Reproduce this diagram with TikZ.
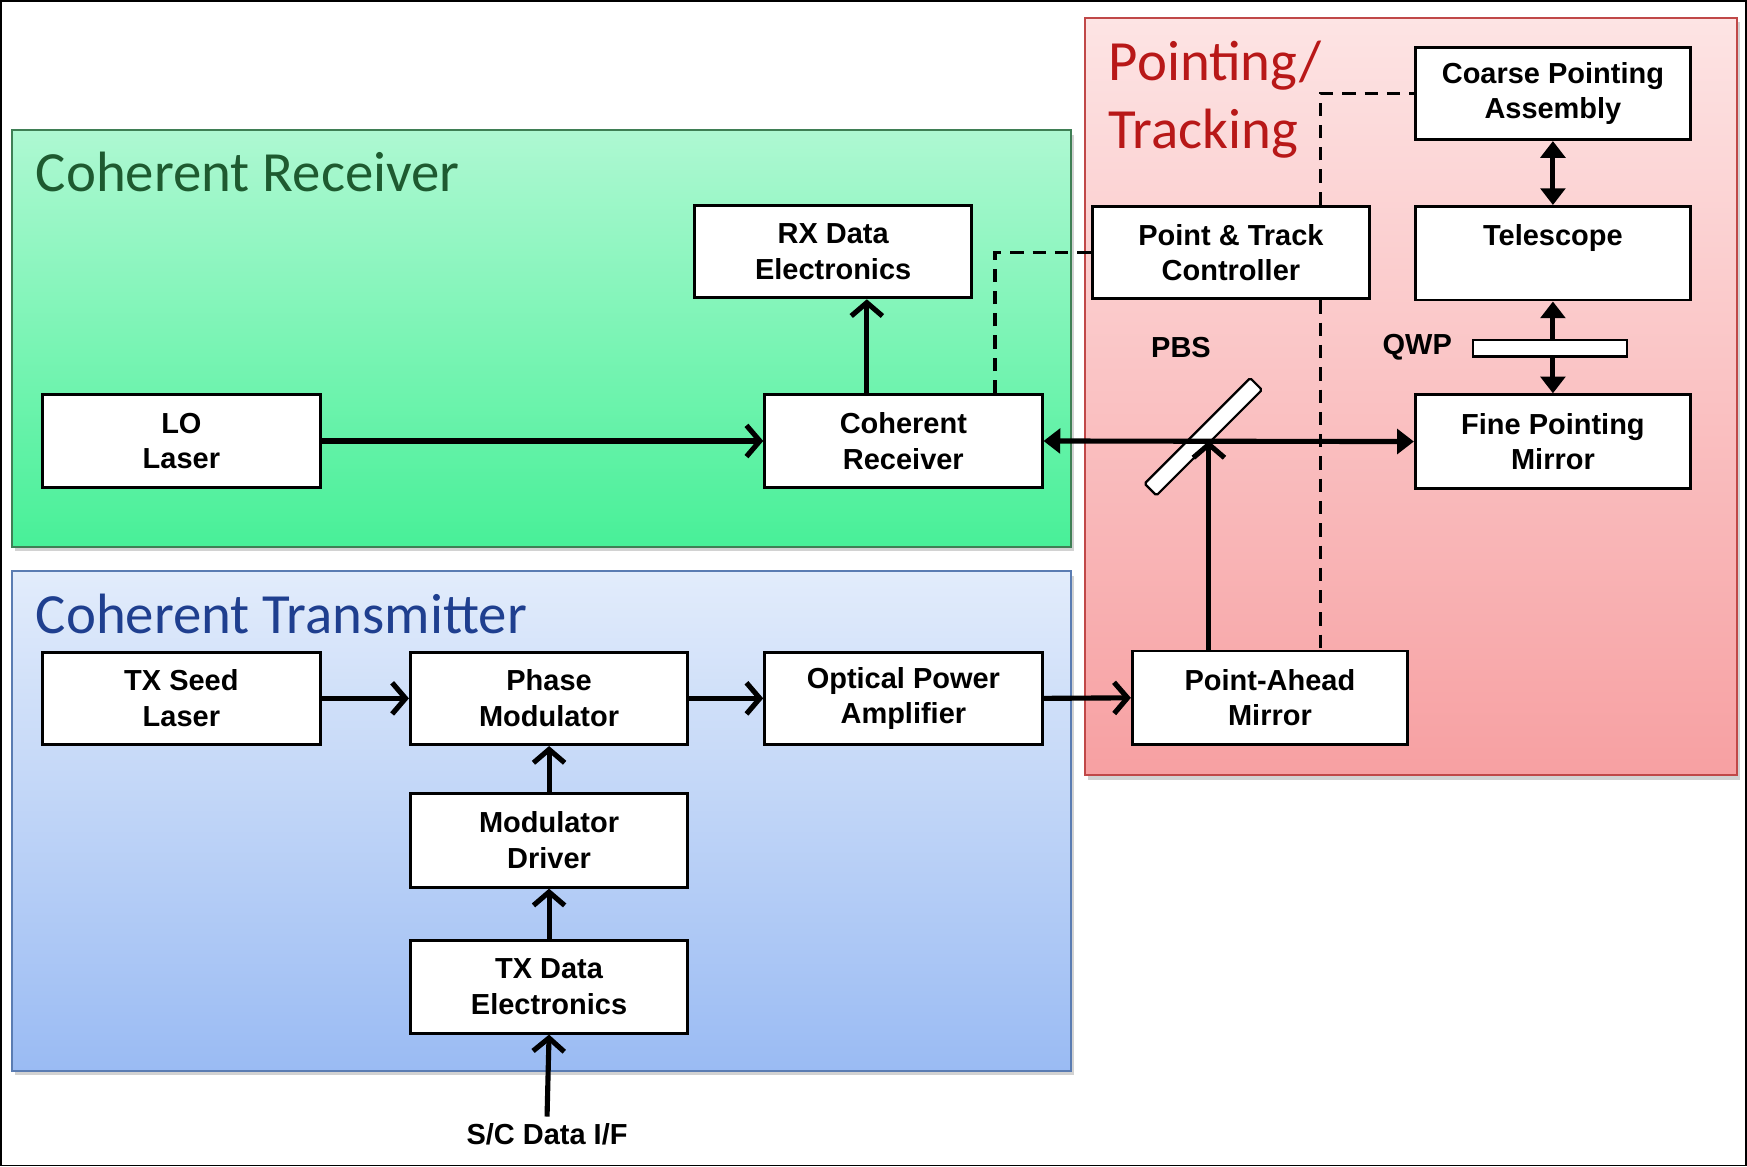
\documentclass[tikz,border=0pt]{standalone}
\usepackage{fontspec}
\setmainfont{Liberation Sans}
\newfontfamily\titlefont{Carlito}
\usetikzlibrary{arrows.meta,shadows,calc}
\definecolor{grtop}{HTML}{AEF8D2}
\definecolor{grbot}{HTML}{48F098}
\definecolor{grline}{HTML}{3F7F55}
\definecolor{grtext}{HTML}{1E5A30}
\definecolor{bltop}{HTML}{E2ECFB}
\definecolor{blbot}{HTML}{9ABBF3}
\definecolor{blline}{HTML}{5A7CB2}
\definecolor{bltext}{HTML}{1F3F8F}
\definecolor{rdtop}{HTML}{FDE4E4}
\definecolor{rdbot}{HTML}{F7A0A2}
\definecolor{rdline}{HTML}{C04848}
\definecolor{rdtext}{HTML}{B81818}
\begin{document}
\begin{tikzpicture}[x=1pt,y=-1pt,
  region/.style={line width=1.8pt, anchor=north west, inner sep=0pt,
    drop shadow={shadow xshift=3pt, shadow yshift=-4pt, opacity=0.35}},
  title/.style={anchor=base west, inner sep=0pt, font=\titlefont\fontsize{51}{60}\selectfont},
  blk/.style={draw=black, line width=2.6pt, fill=white, anchor=north west, inner sep=0pt,
    minimum width=249pt, minimum height=83pt, align=center,
    font=\fontsize{26}{32}\selectfont\bfseries},
  lbl/.style={inner sep=0pt, font=\fontsize{26}{32}\selectfont\bfseries},
  arr/.style={line width=4.6pt, -{Straight Barb[length=12pt,width=28pt]}},
  dbl/.style={line width=4.6pt, {Triangle[length=15pt,width=22pt]}-{Triangle[length=15pt,width=22pt]}},
  dsh/.style={line width=3pt, dash pattern=on 12pt off 8pt}]
\useasboundingbox (0,0) rectangle (1568,1047);
\fill[white] (0,0) rectangle (1568,1047);
\draw[line width=1.5pt] (1,1) rectangle (1567,1046);

% regions
\node[region, draw=grline, top color=grtop, bottom color=grbot,
  minimum width=950pt, minimum height=374pt] (rxreg) at (10,116) {};
\node[region, draw=blline, top color=bltop, bottom color=blbot,
  minimum width=950pt, minimum height=448pt] (txreg) at (10,512) {};
\node[region, draw=rdline, top color=rdtop, bottom color=rdbot,
  minimum width=585pt, minimum height=680pt] (ptreg) at (973,15) {};

\node[title, text=grtext] (rxtitle) at (32,172) {Coherent Receiver};
\node[title, text=bltext] (txtitle) at (32,569) {Coherent Transmitter};
\node[title, text=rdtext] (pttitle1) at (995,72) {Pointing/};
\node[title, text=rdtext] (pttitle2) at (995,133) {Tracking};

% blocks
\node[blk] (rxd) at (622,183) {RX Data\\Electronics};
\node[blk] (lo) at (37,353) {LO\\Laser};
\node[blk] (cr) at (685,353) {Coherent\\Receiver};
\node[blk] (ptc) at (979,184) {Point \& Track\\Controller};
\node[blk, minimum width=247pt] (cpa) at (1269,41) {Coarse Pointing\\Assembly};
\node[blk, minimum width=247pt, minimum height=84pt] (tel) at (1269,184) {Telescope\\\phantom{T}};
\node[blk, minimum width=247pt, minimum height=84pt] (fpm) at (1269,353) {Fine Pointing\\Mirror};
\node[blk, minimum width=247pt, minimum height=84pt] (pam) at (1015,583) {Point-Ahead\\Mirror};
\node[blk] (seed) at (37,584) {TX Seed\\Laser};
\node[blk] (pm) at (367,584) {Phase\\Modulator};
\node[blk] (opa) at (685,584) {Optical Power\\Amplifier};
\node[blk, minimum height=84pt] (md) at (367,711) {Modulator\\Driver};
\node[blk] (txd) at (367,843) {TX Data\\Electronics};
\node[lbl] (sc) at (491,1018) {S/C Data I/F};

\node[lbl] (pbslbl) at (1060,312) {PBS};
\node[lbl] (qwplbl) at (1272,312) {QWP};

% PBS plate
\node[draw=black, fill=white, line width=2pt, minimum width=134pt, minimum height=15pt,
  inner sep=0pt, rounded corners=1.5pt, rotate=45] (pbs) at (1080,392) {};

% dashed control lines
\draw[dsh] ([xshift=208pt]cr.north west) |- (ptc.west);
\draw[dsh] ([xshift=206pt]ptc.north west) |- (cpa.west);
\draw[dsh] ([xshift=206pt]ptc.south west) -- ([xshift=206pt]ptc.south west |- pam.north);

% optical / data paths
\draw[arr] (lo.east) -- (cr.west);
\draw[arr] ([xshift=93pt]cr.north west) -- ([xshift=93pt]cr.north west |- rxd.south);
\draw[dbl] (cr.east) -- (fpm.west);
\draw[arr] ([xshift=70pt]pam.north west) -- ([xshift=70pt]pam.north west |- cr.east);
\draw[dbl] (cpa.south) -- (tel.north);
\draw[dbl] (tel.south) -- (fpm.north);
\node[draw=black, fill=white, line width=2pt, anchor=north west, inner sep=0pt,
  minimum width=138pt, minimum height=15pt] (qwp) at (1321,304) {};

\draw[arr] (seed.east) -- (pm.west);
\draw[arr] (pm.east) -- (opa.west);
\draw[arr] (opa.east) -- (pam.west);
\draw[arr] (md.north) -- (pm.south);
\draw[arr] (txd.north) -- (md.south);
\draw[arr] ([yshift=6pt]sc.north) -- (txd.south);
\end{tikzpicture}
\end{document}
